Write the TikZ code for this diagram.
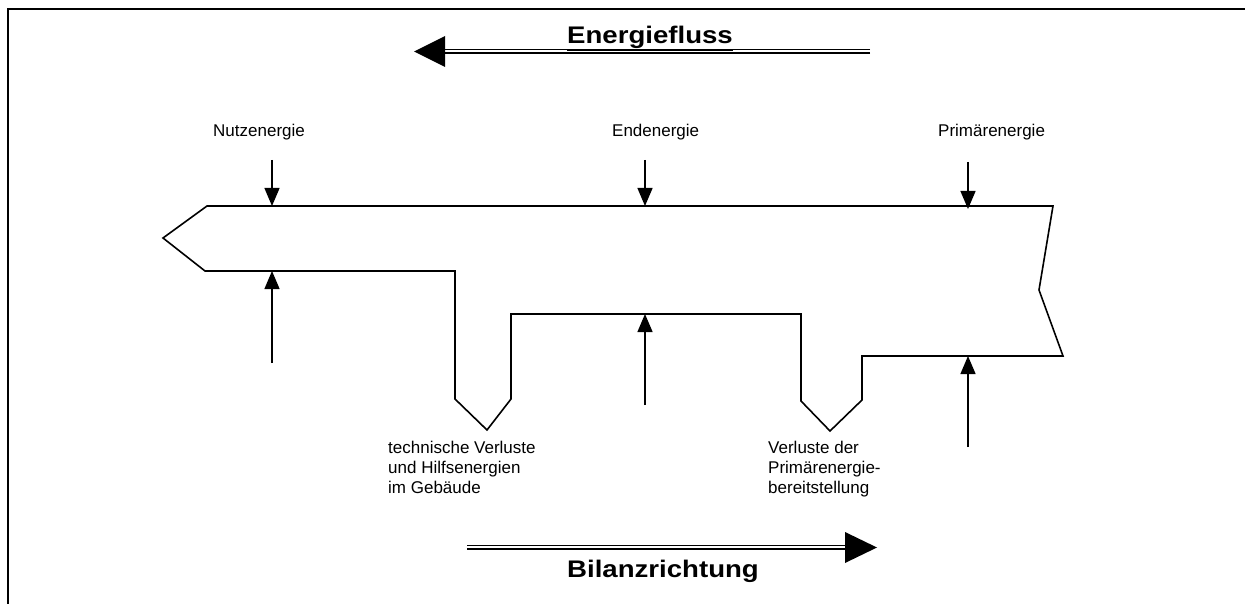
\documentclass[tikz,border=0pt]{standalone}
\usepackage{fontspec}
\setmainfont{Liberation Sans}
\usetikzlibrary{arrows.meta}
\begin{document}
\begin{tikzpicture}[x=1pt,y=-1pt,
  lbl/.style={font=\fontsize{17}{20}\selectfont, inner sep=0pt, anchor=base west, align=left},
  head/.style={font=\bfseries\fontsize{24}{28}\selectfont, inner sep=0pt, anchor=base},
  flow/.style={line width=1.3pt, -{Triangle[width=15pt,length=18pt]}},
  outline/.style={line width=1.6pt, line join=miter},
  dbl/.style={line width=1.4pt},
  tip/.style={fill=black, draw=none}]
\useasboundingbox (0,0) rectangle (1245,604);
% frame
\draw[line width=2.2pt] (8,604) -- (8,9) -- (1245,9);

% Energiefluss arrow
\node[head] (ef) at (650,44) {\scalebox{1.15}[1]{\underline{Energiefluss}}};
\coordinate (efA) at (870,49.5);
\coordinate (efB) at (445,49.5);
\coordinate (efC) at (870,53);
\coordinate (efD) at (445,53);
\draw[dbl] (efA) -- (efB);
\draw[dbl] (efC) -- (efD);
\coordinate (eftip) at (414,51.5);
\fill[tip] (eftip) -- (445,36) -- (445,67) -- cycle;

% Bilanzrichtung arrow
\node[head] (br) at (663,577) {\scalebox{1.15}[1]{Bilanzrichtung}};
\coordinate (brA) at (467,545.5);
\coordinate (brB) at (846,545.5);
\coordinate (brC) at (467,549);
\coordinate (brD) at (846,549);
\draw[dbl] (brA) -- (brB);
\draw[dbl] (brC) -- (brD);
\coordinate (brtip) at (877,547.5);
\fill[tip] (brtip) -- (845,532) -- (845,563) -- cycle;

% main band
\draw[outline] (207,206) -- (1053,206) -- (1039,290) -- (1063,356) -- (862,356)
  -- (862,400) -- (830,431) -- (801,401) -- (801,314) -- (511,314) -- (511,399)
  -- (487,430) -- (455,399) -- (455,271) -- (205,271) -- (163,238) -- cycle;

% labels
\node[lbl] (nutz) at (213,137) {Nutzenergie};
\node[lbl] (end) at (612,137) {Endenergie};
\node[lbl] (prim) at (938,137) {Primärenergie};
\node[lbl] (tech) at (388,493) {technische Verluste\\und Hilfsenergien\\im Gebäude};
\node[lbl] (verl) at (768,493) {Verluste der\\Primärenergie-\\bereitstellung};

% down arrows
\coordinate (d1s) at (272,160); \coordinate (d1e) at (272,206);
\coordinate (d2s) at (645,160); \coordinate (d2e) at (645,206);
\coordinate (d3s) at (968,162); \coordinate (d3e) at (968,209);
\draw[flow] (d1s) -- (d1e);
\draw[flow] (d2s) -- (d2e);
\draw[flow] (d3s) -- (d3e);
% up arrows
\coordinate (u1s) at (272,363); \coordinate (u1e) at (272,271);
\coordinate (u2s) at (645,405); \coordinate (u2e) at (645,314);
\coordinate (u3s) at (968,447); \coordinate (u3e) at (968,356);
\draw[flow] (u1s) -- (u1e);
\draw[flow] (u2s) -- (u2e);
\draw[flow] (u3s) -- (u3e);
\end{tikzpicture}
\end{document}
